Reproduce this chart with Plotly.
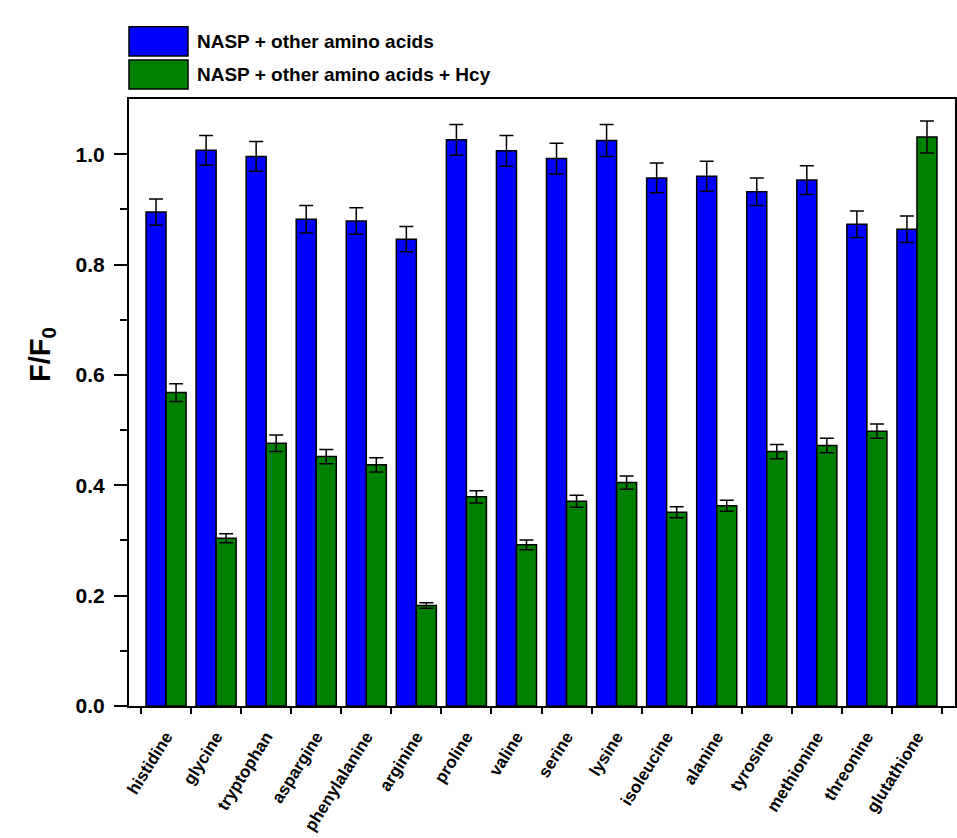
import plotly.graph_objects as go

categories = ["histidine", "glycine", "tryptophan", "aspargine", "phenylalanine", "arginine",
              "proline", "valine", "serine", "lysine", "isoleucine", "alanine",
              "tyrosine", "methionine", "threonine", "glutathione"]
blue_vals = [0.895, 1.007, 0.996, 0.882, 0.879, 0.846, 1.026, 1.006,
             0.992, 1.025, 0.957, 0.960, 0.932, 0.953, 0.873, 0.864]
blue_err = [0.024, 0.027, 0.027, 0.025, 0.024, 0.023, 0.028, 0.028,
            0.028, 0.029, 0.027, 0.027, 0.025, 0.026, 0.024, 0.024]
green_vals = [0.568, 0.304, 0.476, 0.452, 0.437, 0.182, 0.379, 0.292,
              0.371, 0.405, 0.351, 0.363, 0.461, 0.472, 0.498, 1.031]
green_err = [0.016, 0.008, 0.015, 0.013, 0.013, 0.005, 0.011, 0.009,
             0.011, 0.012, 0.010, 0.010, 0.013, 0.013, 0.013, 0.029]
y_ticks = [0.0, 0.2, 0.4, 0.6, 0.8, 1.0]
legend_names = ["NASP + other amino acids", "NASP + other amino acids + Hcy"]
colors = ["#0000FF", "#008000"]

W, H = 957, 838
L, R, T, B = 129, 955, 99, 706
pw, ph = R - L, B - T

def px_x(x):
    return (x - L) / pw

def px_y(y):
    return (B - y) / ph

fig = go.Figure()
for vals, errs, name, col in [(blue_vals, blue_err, legend_names[0], colors[0]),
                              (green_vals, green_err, legend_names[1], colors[1])]:
    fig.add_trace(go.Bar(
        x=categories, y=vals, name=name,
        marker=dict(color=col, line=dict(color="black", width=1.5)),
        error_y=dict(type="data", array=errs, visible=True, color="black",
                     thickness=1.5, width=7),
        showlegend=False,
    ))

font_family = "Liberation Sans"

fig.update_layout(
    width=W, height=H,
    margin=dict(l=L, r=W - R, t=T, b=H - B, pad=0, autoexpand=False),
    paper_bgcolor="white", plot_bgcolor="white",
    barmode="group", bargap=0.2, bargroupgap=0,
    font=dict(family=font_family, color="black"),
)
fig.update_xaxes(
    type="category", range=[-0.74, 15.76], automargin=False,
    tickmode="array", tickvals=categories,
    ticktext=["<b>%s</b>" % c for c in categories],
    showline=True, linecolor="black", linewidth=2, mirror=True,
    ticks="outside", ticklen=6, tickwidth=2, tickcolor="black",
    tickson="boundaries", tickangle=-58, ticklabelstandoff=12,
    tickfont=dict(family=font_family, size=17, color="black"),
    showgrid=False,
)
fig.update_yaxes(
    range=[0, 1.1], tickmode="array", tickvals=y_ticks, automargin=False,
    ticktext=["<b>%.1f</b>" % v for v in y_ticks],
    showline=True, linecolor="black", linewidth=2, mirror=True,
    ticks="outside", ticklen=13, tickwidth=2, tickcolor="black",
    ticklabelstandoff=5,
    minor=dict(tickmode="array", tickvals=[0.1, 0.3, 0.5, 0.7, 0.9], ticks="outside",
               ticklen=7, tickwidth=2, tickcolor="black", showgrid=False),
    tickfont=dict(family=font_family, size=21, color="black"),
    showgrid=False, zeroline=False,
)

# y-axis title
fig.add_annotation(
    text="<b>F/F<sub>0</sub></b>", xref="paper", yref="paper",
    x=px_x(42), y=px_y(355), textangle=-90, showarrow=False,
    font=dict(family=font_family, size=29, color="black"),
    xanchor="center", yanchor="middle",
)

# legend drawn as boxes and labels
boxes = [(26.7, 56), (60, 89)]
for (y0, y1), name, col in zip(boxes, legend_names, colors):
    fig.add_shape(type="rect", xref="paper", yref="paper",
                  x0=px_x(129), x1=px_x(188), y0=px_y(y1), y1=px_y(y0),
                  fillcolor=col, line=dict(color="black", width=1.5))
    fig.add_annotation(text="<b>%s</b>" % name, xref="paper", yref="paper",
                       x=px_x(195), y=px_y((y0 + y1) / 2), showarrow=False,
                       xanchor="left", yanchor="middle",
                       font=dict(family=font_family, size=19, color="black"))

fig.write_html("out.html")
